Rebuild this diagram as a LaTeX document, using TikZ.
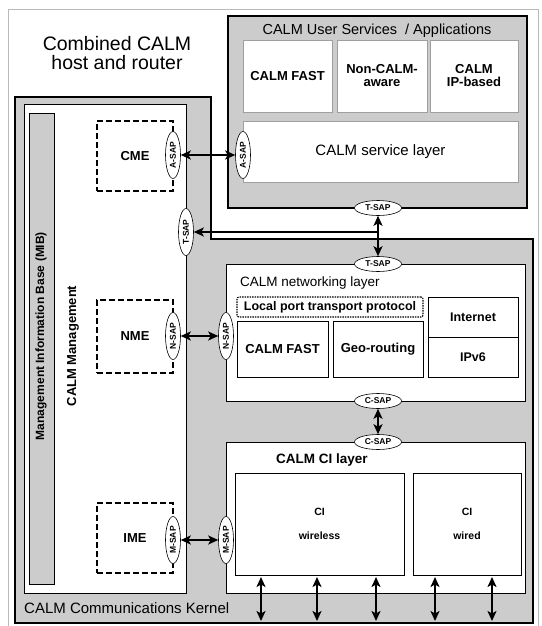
\documentclass[tikz,border=0pt]{standalone}
\usepackage{fontspec}
\setmainfont{Liberation Sans}
\usetikzlibrary{arrows.meta,shapes.geometric}
\definecolor{dotgray}{gray}{0.80}
\newcommand\fs[1]{\fontsize{#1}{#1}\selectfont}
\newcommand\mkbox[7][]{\node[#1, anchor=north west, minimum width={(#5-#3)*1pt}, minimum height={(#6-#4)*1pt}] (#2) at (#3,#4) {#7};}
\tikzset{
  wbox/.style={draw=black, line width=0.8pt, fill=white, inner sep=0pt, outer sep=0pt, align=center},
  lbox/.style={draw=gray!75, line width=0.8pt, fill=white, inner sep=0pt, outer sep=0pt, align=center},
  gbox/.style={draw=black, line width=1.4pt, fill=dotgray, inner sep=0pt, outer sep=0pt},
  dashedbox/.style={draw=black, line width=1.4pt, dash pattern=on 6pt off 3pt, inner sep=0pt, outer sep=0pt, font=\fs{13}\bfseries},
  sap/.style={ellipse, draw=black, line width=0.6pt, fill=white, inner sep=0pt, minimum width=47pt, minimum height=15pt, font=\fs{8.5}\bfseries},
  sapv/.style={sap, rotate=90},
  dbl/.style={{Stealth[length=10pt,width=9pt,inset=2.5pt]}-{Stealth[length=10pt,width=9pt,inset=2.5pt]}, line width=2.2pt},
  sgl/.style={-{Stealth[length=10pt,width=9pt,inset=2.5pt]}, line width=2.2pt},
  lab/.style={inner sep=0pt, align=center}
}
\begin{document}
\begin{tikzpicture}[x=1pt,y=-1pt]
\useasboundingbox (0,0) rectangle (541,626);
% outer frame
\draw[gray!55, line width=0.6pt] (8,640) -- (8,9) -- (538,9) -- (538,640);
\node[lab, font=\fs{19.5}, align=center] (title) at (117,53) {\fontsize{19.5}{23}\selectfont Combined CALM\\host and router};
% kernel
\path[gbox] (15,97) -- (211,97) -- (211,239) -- (533,239) -- (533,623) -- (15,623) -- cycle;
\node[lab, anchor=west, font=\fs{15}] (kern) at (24,608) {CALM Communications Kernel};
% user services
\mkbox[gbox]{us}{228}{16}{527}{208}{}
\node[lab, font=\fs{14.5}] (ustitle) at (377,31) {CALM User Services\ \ / Applications};
\mkbox[lbox, font=\fs{13}\bfseries]{usfast}{243}{40}{332}{112}{CALM FAST}
\mkbox[lbox, font=\fs{13}\bfseries]{usnon}{337}{40}{427}{112}{Non-CALM-\\aware}
\mkbox[lbox, font=\fs{13}\bfseries]{usip}{430}{40}{518}{112}{CALM\\IP-based}
\mkbox[lbox, font=\fs{15}]{svc}{243}{121}{518}{182}{CALM service layer}
% management
\mkbox[wbox]{mgmt}{24}{104}{186}{593}{}
\mkbox[gbox, line width=0.8pt]{mib}{29}{113}{54}{584}{}
\node[lab, rotate=90, font=\fs{12}\bfseries] (mibt) at (41,336) {Management Information Base (MIB)};
\node[lab, rotate=90, font=\fs{13}\bfseries] (mgt) at (73,346) {CALM Management};
\mkbox[dashedbox]{cme}{97}{121}{173}{191}{CME}
\mkbox[dashedbox]{nme}{97}{300}{173}{373}{NME}
\mkbox[dashedbox]{ime}{97}{503}{173}{573}{IME}
% networking layer
\mkbox[wbox]{net}{226}{264}{525}{401}{}
\node[lab, anchor=west, font=\fs{13.5}] (nett) at (240,283) {CALM networking layer};
\mkbox[wbox, rounded corners=2pt, line width=1.1pt, dash pattern=on 1.5pt off 1pt, font=\fs{12.5}\bfseries]{lpt}{237}{297}{423}{317}{Local port transport protocol}
\mkbox[wbox, font=\fs{13}\bfseries]{nfast}{237}{321}{328}{377}{CALM FAST}
\mkbox[wbox, font=\fs{13}\bfseries]{geo}{333}{321}{423}{377}{Geo-routing}
\mkbox[wbox, font=\fs{12.5}\bfseries]{inet}{428}{297}{518}{337}{Internet}
\mkbox[wbox, font=\fs{12.5}\bfseries]{ipv6}{428}{337}{518}{377}{IPv6}
% CI layer
\mkbox[wbox]{ci}{226}{442}{525}{593}{}
\node[lab, anchor=west, font=\fs{13.5}\bfseries] (cit) at (276,460) {CALM CI layer};
\mkbox[wbox, font=\fs{10.5}\bfseries]{ciwl}{235}{473}{404}{575}{CI\\[13pt]wireless}
\mkbox[wbox, font=\fs{10.5}\bfseries]{ciwd}{413}{473}{521}{575}{CI\\[13pt]wired}
% SAPs
\node[sapv] (cmeA) at (173,155) {A-SAP};
\node[sapv] (svcA) at (243,155) {A-SAP};
\node[sapv] (mgT) at (186,232) {T-SAP};
\node[sapv] (nmeN) at (173,336) {N-SAP};
\node[sapv] (netN) at (226,336) {N-SAP};
\node[sapv] (imeM) at (173,540) {M-SAP};
\node[sapv] (ciM) at (226,540) {M-SAP};
\node[sap] (usT) at (378,208) {T-SAP};
\node[sap] (netT) at (378,264) {T-SAP};
\node[sap] (netC) at (378,401) {C-SAP};
\node[sap] (ciC) at (378,442) {C-SAP};
% connectors
\draw[dbl] (cmeA) -- (svcA);
\draw[dbl] (usT) -- (netT);
\coordinate (tj) at (378,232);
\draw[sgl] (tj) -- (mgT);
\draw[dbl] (nmeN) -- (netN);
\draw[dbl] (imeM) -- (ciM);
\draw[dbl] (netC) -- (ciC);
\foreach \i/\x in {1/261,2/317,3/376,4/435,5/492}{
  \coordinate (bt\i) at (\x,577);
  \coordinate (bb\i) at (\x,621);
  \draw[dbl] (bt\i) -- (bb\i);
}
\end{tikzpicture}
\end{document}
